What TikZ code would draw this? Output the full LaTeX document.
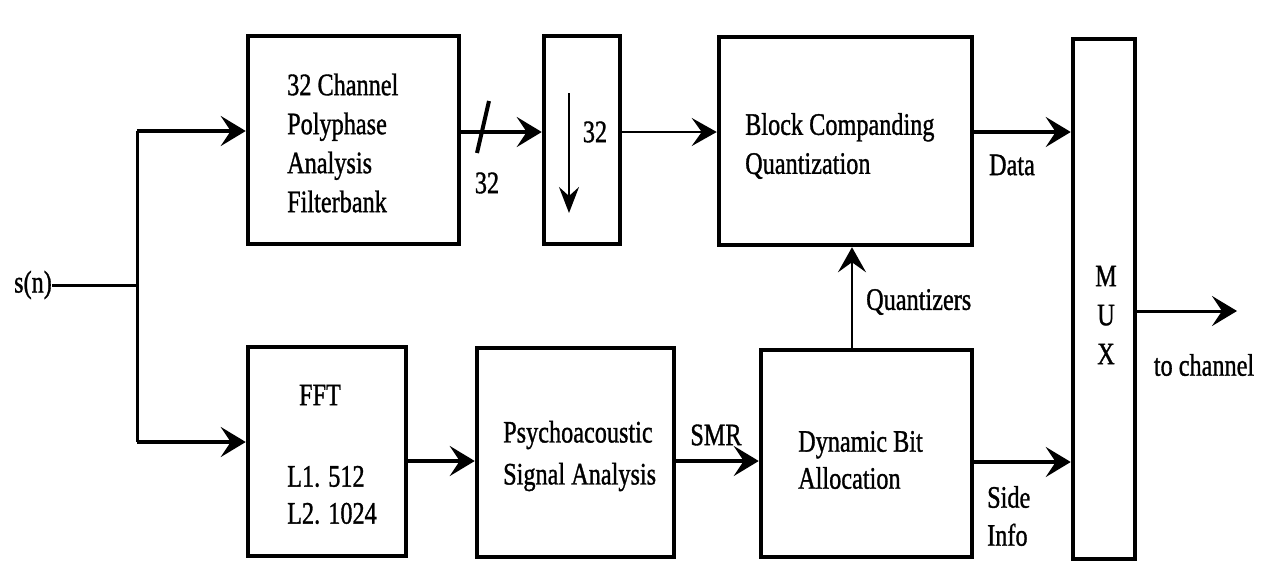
\documentclass[tikz,border=0pt]{standalone}
\usepackage{fontspec}
\setmainfont{Liberation Serif}
\newfontfamily\heavy{Liberation Serif}[FakeBold=1.2]
\usepackage{graphicx}
\usetikzlibrary{arrows.meta}
\newcommand{\tl}[1]{\scalebox{0.97}[1.25]{#1}}
\begin{document}
\begin{tikzpicture}[x=1pt,y=-1pt,
  box/.style={draw, line width=4.5pt, inner sep=0pt},
  lbl/.style={font=\heavy\fontsize{25}{39}\selectfont, inner sep=0pt},
  arr/.style={line width=4pt, -{Stealth[length=25pt,width=30pt,inset=10pt]}},
  thinarr/.style={line width=2.5pt, -{Stealth[length=25pt,width=28pt,inset=10pt]}},
  wire/.style={line width=3pt}
]
\useasboundingbox[fill=white] (0,0) rectangle (1270,581);
% boxes
\node[box,minimum width=211pt,minimum height=208pt] (poly) at (353.5,140) {};
\node[box,minimum width=76pt,minimum height=208pt] (down) at (582,140) {};
\node[box,minimum width=253pt,minimum height=208pt] (block) at (845.5,141) {};
\node[box,minimum width=62pt,minimum height=520pt] (mux) at (1104,299) {};
\node[box,minimum width=158pt,minimum height=209pt] (fft) at (327,451.5) {};
\node[box,minimum width=197pt,minimum height=209pt] (psy) at (575.5,452.5) {};
\node[box,minimum width=211pt,minimum height=207pt] (dyn) at (866.5,453.5) {};
% box texts
\node[lbl,align=left,anchor=west] (polyt) at (287,143) {\tl{32 Channel}\\\tl{Polyphase}\\\tl{Analysis}\\\tl{Filterbank}};
\node[lbl] (downt) at (595,132) {\tl{32}};
\node[lbl,align=left,anchor=west] (blockt) at (745,146) {\tl{Block Companding}\\\tl{Quantization}};
\node[lbl,align=center] (muxt) at (1106,315) {\tl{M}\\\tl{U}\\\tl{X}};
\node[lbl] (fftt) at (320,395) {\tl{FFT}};
\node[lbl,align=left,anchor=west,font=\heavy\fontsize{25}{37}\selectfont] (fftl) at (287,495) {\tl{L1. 512}\\\tl{L2. 1024}};
\node[lbl,align=left,anchor=west,font=\heavy\fontsize{25}{42}\selectfont] (psyt) at (503,456) {\tl{Psychoacoustic}\\\tl{Signal Analysis}};
\node[lbl,align=left,anchor=west,font=\heavy\fontsize{25}{37}\selectfont] (dynt) at (798,460) {\tl{Dynamic Bit}\\\tl{Allocation}};
% connector labels
\node[lbl] (sn) at (33,285) {\tl{s(n)}};
\node[lbl] (n32) at (487,183) {\tl{32}};
\node[lbl] (data) at (1012,165) {\tl{Data}};
\node[lbl] (smr) at (716,435) {\tl{SMR}};
\node[lbl,anchor=west] (quant) at (866,302) {\tl{Quantizers}};
\node[lbl,align=left,anchor=west,font=\heavy\fontsize{25}{38}\selectfont] (side) at (987,516) {\tl{Side}\\\tl{Info}};
\node[lbl] (toch) at (1204,365) {\tl{to channel}};
% coordinates
\coordinate (br) at (137,285);
\coordinate (t1) at (137,131);
\coordinate (b1) at (137,442);
\coordinate (r1) at (0,132);
\coordinate (r2) at (0,461);
\coordinate (r3) at (0,462);
\coordinate (qx) at (852,0);
\coordinate (out) at (1237,311);
\coordinate (da) at (569,93);
\coordinate (db) at (569,213);
% connectors
\draw[wire] (sn.east|-br) -- (br);
\draw[wire] (t1) -- (b1);
\draw[arr] (t1) -- (poly.west|-t1);
\draw[arr] (b1) -- (fft.west|-b1);
\draw[arr] (poly.east|-r1) -- (down.west|-r1);
\draw[line width=4pt] (477,153) -- (489,101);
\draw[line width=2pt, -{Stealth[length=26pt,width=20pt,inset=9pt]}] (da) -- (db);
\draw[thinarr] (down.east|-r1) -- (block.west|-r1);
\draw[arr] (block.east|-r1) -- (mux.west|-r1);
\draw[arr] (fft.east|-r2) -- (psy.west|-r2);
\draw[arr] (psy.east|-r2) -- (dyn.west|-r2);
\draw[thinarr] (dyn.north-|qx) -- (block.south-|qx);
\draw[arr,line width=3.5pt] (dyn.east|-r3) -- (mux.west|-r3);
\draw[arr,line width=3pt] (mux.east|-out) -- (out);
\end{tikzpicture}
\end{document}
